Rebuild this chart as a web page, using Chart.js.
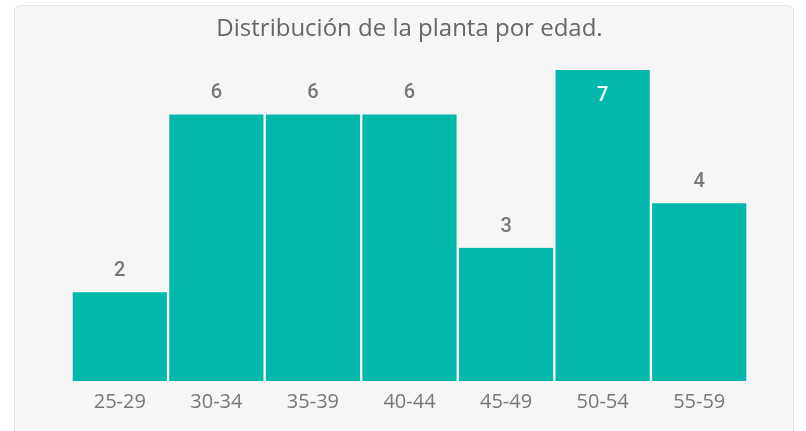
<!DOCTYPE html>
<html>
<head>
<meta charset="utf-8">
<script src="https://cdn.jsdelivr.net/npm/chart.js@4"></script>
<style>
  html, body { margin: 0; padding: 0; background: #fff; width: 806px; height: 431px; overflow: hidden; }
  .card { position: absolute; left: 14px; top: 5px; width: 778px; height: 460px;
          background: #f6f6f6; border: 1px solid #e3e3e3; border-radius: 6px; }
  #wrap { position: absolute; left: 0; top: 0; width: 806px; height: 431px; }
</style>
</head>
<body>
<div class="card"></div>
<div id="wrap"><canvas id="edadChart" width="806" height="431"></canvas></div>
<script>
const categorias = ['25-29', '30-34', '35-39', '40-44', '45-49', '50-54', '55-59'];
const valores = [2, 6, 6, 6, 3, 7, 4];
const titulo = 'Distribución de la planta por edad.';

// etiquetas de valor sobre las barras
const etiquetas = {
    id: 'etiquetas',
    afterDatasetsDraw(chart) {
        const ctx = chart.ctx;
        const meta = chart.getDatasetMeta(0);
        ctx.save();
        ctx.font = '500 20px Roboto';
        ctx.textAlign = 'center';
        ctx.textBaseline = 'middle';
        meta.data.forEach((bar, i) => {
            let y = bar.y - 21;
            let color = '#777';
            if (y < chart.chartArea.top) {
                y = bar.y + 26;
                color = '#fff';
            }
            ctx.fillStyle = color;
            ctx.fillText(valores[i], bar.x, y);
        });
        ctx.restore();
    }
};

new Chart(document.getElementById('edadChart'), {
    type: 'bar',
    data: {
        labels: categorias,
        datasets: [{
            data: valores,
            backgroundColor: '#02b8ab',
            borderColor: '#ffffff',
            borderWidth: { left: 1.5, right: 1.5, top: 0, bottom: 0 },
            borderSkipped: false,
            barPercentage: 1,
            categoryPercentage: 1
        }]
    },
    options: {
        responsive: false,
        animation: false,
        layout: {
            padding: { left: 71.5, right: 58.5, top: 0, bottom: 8 }
        },
        plugins: {
            legend: { display: false },
            tooltip: { enabled: false },
            title: {
                display: true,
                text: titulo,
                color: '#666',
                font: { family: '"Open Sans"', size: 24, weight: 'normal' },
                padding: { top: 15, bottom: 26.2 }
            }
        },
        scales: {
            x: {
                grid: { display: false, drawTicks: false },
                border: { display: false },
                ticks: {
                    color: '#777',
                    padding: 9,
                    font: { family: '"Open Sans"', size: 20 }
                }
            },
            y: {
                display: false,
                min: 0,
                max: 7
            }
        }
    },
    plugins: [etiquetas]
});
</script>
</body>
</html>
